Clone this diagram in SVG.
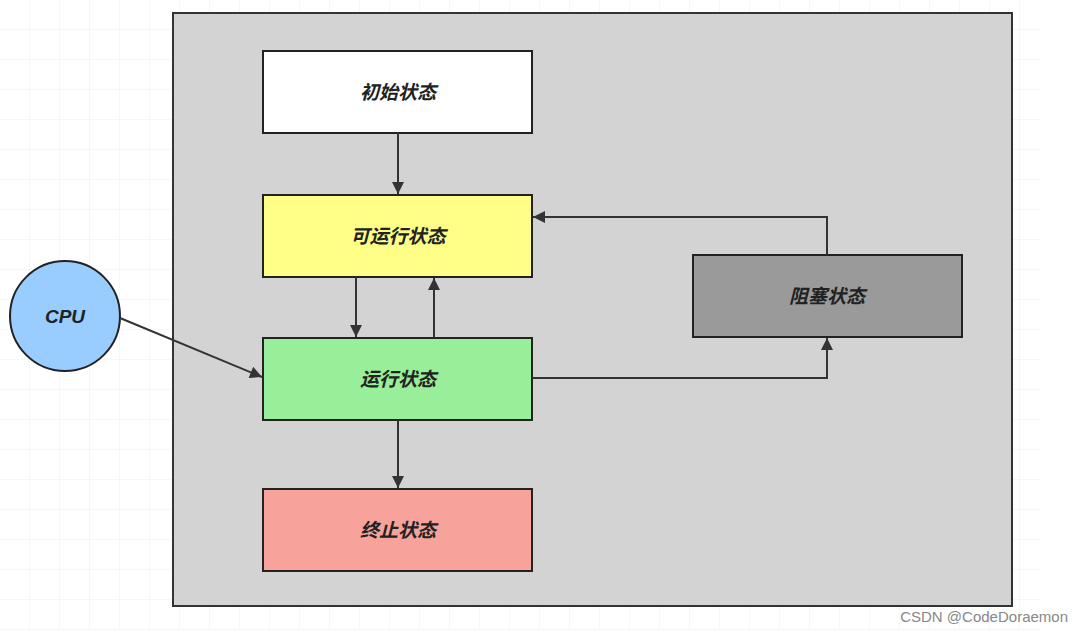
<svg xmlns="http://www.w3.org/2000/svg" width="1084" height="634" viewBox="0 0 1084 634">
<style>
.n{stroke:#222;stroke-width:2}
.t{font-family:"Liberation Sans","Noto Sans CJK SC",sans-serif;font-size:19px;font-weight:bold;font-style:italic;fill:#222;text-anchor:middle;dominant-baseline:central}
.c{fill:none;stroke:#333;stroke-width:2;marker-end:url(#a)}
</style>
<defs>
<marker id="a" viewBox="0 0 10 10" refX="10" refY="5" markerWidth="14" markerHeight="12" markerUnits="userSpaceOnUse" orient="auto"><path d="M0,0L10,5L0,10z" fill="#333"/></marker>
<pattern id="g" width="30" height="30" patternUnits="userSpaceOnUse"><path d="M30,0V30H0" fill="none" stroke="#eee" stroke-width="1"/></pattern>
</defs>
<rect width="1084" height="634" fill="#fff"/>
<rect width="1040" height="630" fill="url(#g)"/>
<rect x="173" y="13" width="839" height="593" fill="#d3d3d3" stroke="#333" stroke-width="2"/>
<g id="init"><rect class="n" x="263" y="51" width="269" height="82" fill="#fff"/><text class="t" x="398" y="92">初始状态</text></g>
<g id="runnable"><rect class="n" x="263" y="195" width="269" height="82" fill="#ffff88"/><text class="t" x="398" y="236">可运行状态</text></g>
<g id="running"><rect class="n" x="263" y="338" width="269" height="82" fill="#99ee99"/><text class="t" x="398" y="379">运行状态</text></g>
<g id="end"><rect class="n" x="263" y="489" width="269" height="82" fill="#f7a39c"/><text class="t" x="398" y="530">终止状态</text></g>
<g id="blocked"><rect class="n" x="693" y="255" width="269" height="82" fill="#9a9a9a"/><text class="t" x="827" y="296">阻塞状态</text></g>
<g id="cpu"><circle class="n" cx="65" cy="316" r="55" fill="#99ccff"/><text class="t" x="65" y="316">CPU</text></g>
<g id="connectors">
<path class="c" d="M398,133V194"/>
<path class="c" d="M356,277V337"/>
<path class="c" d="M434,338V278"/>
<path class="c" d="M398,420V488"/>
<path class="c" d="M120,318L262,377"/>
<path class="c" d="M532,378H827V338"/>
<path class="c" d="M827,255V217H533"/>
</g>
<text x="1068" y="622" font-family="Liberation Sans,sans-serif" font-size="15" fill="#888" text-anchor="end">CSDN @CodeDoraemon</text>
</svg>
